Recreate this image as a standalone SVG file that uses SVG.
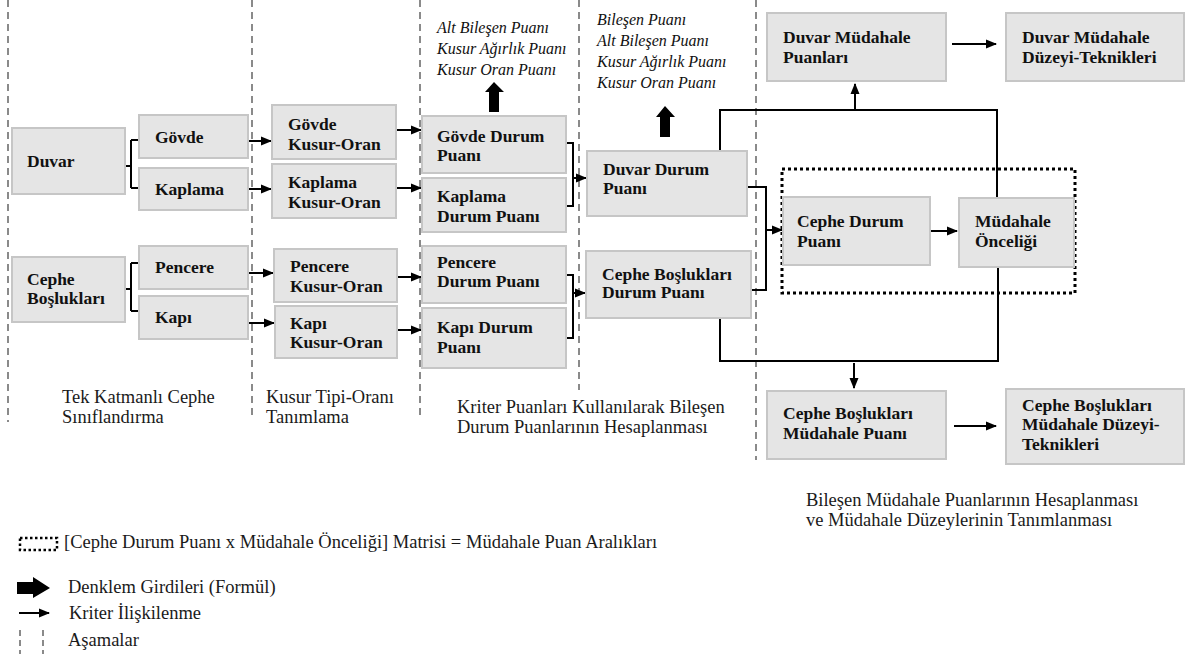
<svg xmlns="http://www.w3.org/2000/svg" width="1192" height="659" viewBox="0 0 1192 659">
<style>
.box{fill:#e5e5e5;stroke:#c6c6c6;stroke-width:2}
.ph{stroke:#8a8a8a;stroke-width:2;stroke-dasharray:7,5;fill:none}
.ln{stroke:#000;stroke-width:2;fill:none}
</style>
<defs>
<marker id="ah" markerUnits="userSpaceOnUse" markerWidth="11" markerHeight="10" refX="10" refY="5" orient="auto">
<path d="M0,0.5 L11,5 L0,9.5 z" fill="#000"/>
</marker>
</defs>
<rect width="1192" height="659" fill="#fff"/>

<g id="phases">
<line class="ph" x1="8" y1="0" x2="8" y2="422"/>
<line class="ph" x1="252" y1="0" x2="252" y2="415"/>
<line class="ph" x1="420" y1="0" x2="420" y2="415"/>
<line class="ph" x1="579" y1="0" x2="579" y2="390"/>
<line class="ph" x1="756" y1="0" x2="756" y2="460"/>
</g>

<g id="connectors" class="ln">
<path d="M125,166 H131 M131,140 V188 M131,140 H139 M131,188 H139"/>
<path d="M125,289 H131 M131,263 V311 M131,263 H139 M131,311 H139"/>
<path d="M566,143 H573 V206 H566"/>
<path d="M566,275 H573 V338 H566"/>
<path d="M747,187 H766 V290 H751"/>
<path d="M720,151 V110 H997 V198"/>
<path d="M720,318 V361 H998 V267"/>
<g marker-end="url(#ah)">
<path d="M248,141 H271"/>
<path d="M248,189 H271"/>
<path d="M248,273 H273"/>
<path d="M248,323 H274"/>
<path d="M396,130 H421"/>
<path d="M396,188 H421"/>
<path d="M397,277 H421"/>
<path d="M397,330 H421"/>
<path d="M573,178 H586"/>
<path d="M573,293 H585"/>
<path d="M766,230 H782"/>
<path d="M855,109 V84"/>
<path d="M854,363 V388"/>
<path d="M952,44 H996"/>
<path d="M931,231 H957"/>
<path d="M954,426 H996"/>
</g>
<g stroke="none" fill="#000">
<polygon points="489,112 499,112 499,92 504,92 494,82 485,92 489,92"/>
<polygon points="660,137 670,137 670,117 675,117 665,106 656,117 660,117"/>
</g>
</g>

<g id="inputs" font-style="italic" font-size="16" fill="#111">
<g id="inputs1">
<text style="font-family:'Liberation Serif',serif" x="437" y="33">Alt Bileşen Puanı</text>
<text style="font-family:'Liberation Serif',serif" x="437" y="54">Kusur Ağırlık Puanı</text>
<text style="font-family:'Liberation Serif',serif" x="437" y="75">Kusur Oran Puanı</text>
</g>
<g id="inputs2">
<text style="font-family:'Liberation Serif',serif" x="597" y="25">Bileşen Puanı</text>
<text style="font-family:'Liberation Serif',serif" x="597" y="46">Alt Bileşen Puanı</text>
<text style="font-family:'Liberation Serif',serif" x="597" y="67">Kusur Ağırlık Puanı</text>
<text style="font-family:'Liberation Serif',serif" x="597" y="88">Kusur Oran Puanı</text>
</g>
</g>

<g id="matris"><rect x="782" y="169" width="293" height="124" fill="none" stroke="#000" stroke-width="3" stroke-dasharray="3,3"/></g>

<g id="nodes" font-weight="bold" font-size="17.5">
<g id="duvar"><rect class="box" x="12" y="128" width="113" height="66"/><text style="font-family:'Liberation Serif',serif" fill="#111" x="27" y="167">Duvar</text></g>
<g id="govde"><rect class="box" x="139" y="115" width="109" height="43"/><text style="font-family:'Liberation Serif',serif" fill="#111" x="155" y="143">Gövde</text></g>
<g id="kaplama"><rect class="box" x="139" y="168" width="109" height="42"/><text style="font-family:'Liberation Serif',serif" fill="#111" x="155" y="195">Kaplama</text></g>
<g id="cephe-bosluklari"><rect class="box" x="12" y="257" width="113" height="65"/><text style="font-family:'Liberation Serif',serif" fill="#111" x="27" y="285">Cephe</text><text style="font-family:'Liberation Serif',serif" fill="#111" x="27" y="304">Boşlukları</text></g>
<g id="pencere"><rect class="box" x="139" y="246" width="109" height="43"/><text style="font-family:'Liberation Serif',serif" fill="#111" x="155" y="273">Pencere</text></g>
<g id="kapi"><rect class="box" x="139" y="296" width="109" height="43"/><text style="font-family:'Liberation Serif',serif" fill="#111" x="155" y="323">Kapı</text></g>

<g id="govde-ko"><rect class="box" x="272" y="105" width="124" height="54"/><text style="font-family:'Liberation Serif',serif" fill="#111" x="288" y="130">Gövde</text><text style="font-family:'Liberation Serif',serif" fill="#111" x="288" y="150">Kusur-Oran</text></g>
<g id="kaplama-ko"><rect class="box" x="272" y="164" width="124" height="54"/><text style="font-family:'Liberation Serif',serif" fill="#111" x="288" y="188">Kaplama</text><text style="font-family:'Liberation Serif',serif" fill="#111" x="288" y="208">Kusur-Oran</text></g>
<g id="pencere-ko"><rect class="box" x="274" y="249" width="123" height="53"/><text style="font-family:'Liberation Serif',serif" fill="#111" x="290" y="272">Pencere</text><text style="font-family:'Liberation Serif',serif" fill="#111" x="290" y="292">Kusur-Oran</text></g>
<g id="kapi-ko"><rect class="box" x="275" y="306" width="122" height="52"/><text style="font-family:'Liberation Serif',serif" fill="#111" x="290" y="329">Kapı</text><text style="font-family:'Liberation Serif',serif" fill="#111" x="290" y="348">Kusur-Oran</text></g>

<g id="govde-dp"><rect class="box" x="422" y="116" width="144" height="57"/><text style="font-family:'Liberation Serif',serif" fill="#111" x="437" y="142">Gövde Durum</text><text style="font-family:'Liberation Serif',serif" fill="#111" x="437" y="161">Puanı</text></g>
<g id="kaplama-dp"><rect class="box" x="422" y="178" width="144" height="54"/><text style="font-family:'Liberation Serif',serif" fill="#111" x="437" y="202">Kaplama</text><text style="font-family:'Liberation Serif',serif" fill="#111" x="437" y="222">Durum Puanı</text></g>
<g id="pencere-dp"><rect class="box" x="422" y="246" width="144" height="57"/><text style="font-family:'Liberation Serif',serif" fill="#111" x="437" y="268">Pencere</text><text style="font-family:'Liberation Serif',serif" fill="#111" x="437" y="287">Durum Puanı</text></g>
<g id="kapi-dp"><rect class="box" x="422" y="308" width="144" height="60"/><text style="font-family:'Liberation Serif',serif" fill="#111" x="437" y="333">Kapı Durum</text><text style="font-family:'Liberation Serif',serif" fill="#111" x="437" y="353">Puanı</text></g>

<g id="duvar-dp"><rect class="box" x="587" y="151" width="160" height="65"/><text style="font-family:'Liberation Serif',serif" fill="#111" x="603" y="175">Duvar Durum</text><text style="font-family:'Liberation Serif',serif" fill="#111" x="603" y="194">Puanı</text></g>
<g id="cephe-bosluklari-dp"><rect class="box" x="586" y="251" width="165" height="67"/><text style="font-family:'Liberation Serif',serif" fill="#111" x="602" y="280">Cephe Boşlukları</text><text style="font-family:'Liberation Serif',serif" fill="#111" x="602" y="298">Durum Puanı</text></g>

<g id="cephe-dp"><rect class="box" x="783" y="197" width="147" height="68"/><text style="font-family:'Liberation Serif',serif" fill="#111" x="797" y="227">Cephe Durum</text><text style="font-family:'Liberation Serif',serif" fill="#111" x="797" y="247">Puanı</text></g>
<g id="mudahale-onceligi"><rect class="box" x="959" y="198" width="115" height="69"/><text style="font-family:'Liberation Serif',serif" fill="#111" x="975" y="227">Müdahale</text><text style="font-family:'Liberation Serif',serif" fill="#111" x="975" y="247">Önceliği</text></g>

<g id="duvar-mp"><rect class="box" x="767" y="13" width="179" height="68"/><text style="font-family:'Liberation Serif',serif" fill="#111" x="783" y="43">Duvar Müdahale</text><text style="font-family:'Liberation Serif',serif" fill="#111" x="783" y="63">Puanları</text></g>
<g id="duvar-mdt"><rect class="box" x="1006" y="13" width="178" height="68"/><text style="font-family:'Liberation Serif',serif" fill="#111" x="1022" y="43">Duvar Müdahale</text><text style="font-family:'Liberation Serif',serif" fill="#111" x="1022" y="63">Düzeyi-Teknikleri</text></g>
<g id="cb-mp"><rect class="box" x="767" y="391" width="179" height="68"/><text style="font-family:'Liberation Serif',serif" fill="#111" x="783" y="419">Cephe Boşlukları</text><text style="font-family:'Liberation Serif',serif" fill="#111" x="783" y="439">Müdahale Puanı</text></g>
<g id="cb-mdt"><rect class="box" x="1006" y="389" width="178" height="75"/><text style="font-family:'Liberation Serif',serif" fill="#111" x="1022" y="411">Cephe Boşlukları</text><text style="font-family:'Liberation Serif',serif" fill="#111" x="1022" y="430">Müdahale Düzeyi-</text><text style="font-family:'Liberation Serif',serif" fill="#111" x="1022" y="450">Teknikleri</text></g>
</g>

<g id="phase-labels" font-size="18.5" fill="#1a1a1a">
<text style="font-family:'Liberation Serif',serif" x="62" y="403">Tek Katmanlı Cephe</text>
<text style="font-family:'Liberation Serif',serif" x="62" y="423">Sınıflandırma</text>
<text style="font-family:'Liberation Serif',serif" x="266" y="403">Kusur Tipi-Oranı</text>
<text style="font-family:'Liberation Serif',serif" x="266" y="423">Tanımlama</text>
<text style="font-family:'Liberation Serif',serif" x="457" y="413">Kriter Puanları Kullanılarak Bileşen</text>
<text style="font-family:'Liberation Serif',serif" x="457" y="433">Durum Puanlarının Hesaplanması</text>
<text style="font-family:'Liberation Serif',serif" x="806" y="506">Bileşen Müdahale Puanlarının Hesaplanması</text>
<text style="font-family:'Liberation Serif',serif" x="806" y="526">ve Müdahale Düzeylerinin Tanımlanması</text>
</g>

<g id="legend" font-size="18.5" fill="#1a1a1a">
<rect x="20" y="538" width="37" height="12" fill="none" stroke="#000" stroke-width="2.5" stroke-dasharray="2.5,2.5"/>
<text style="font-family:'Liberation Serif',serif" x="64" y="548">[Cephe Durum Puanı x Müdahale Önceliği] Matrisi = Müdahale Puan Aralıkları</text>
<polygon points="17,582 33,582 33,577 50,588 33,598 33,594 17,594" fill="#000"/>
<text style="font-family:'Liberation Serif',serif" x="68" y="593">Denklem Girdileri (Formül)</text>
<path class="ln" d="M19,613 H49" marker-end="url(#ah)"/>
<text style="font-family:'Liberation Serif',serif" x="69" y="619">Kriter İlişkilenme</text>
<line x1="20" y1="630" x2="20" y2="654" stroke="#8a8a8a" stroke-width="2" stroke-dasharray="6,4"/>
<line x1="43" y1="630" x2="43" y2="654" stroke="#8a8a8a" stroke-width="2" stroke-dasharray="6,4"/>
<text style="font-family:'Liberation Serif',serif" x="68" y="646">Aşamalar</text>
</g>
</svg>
